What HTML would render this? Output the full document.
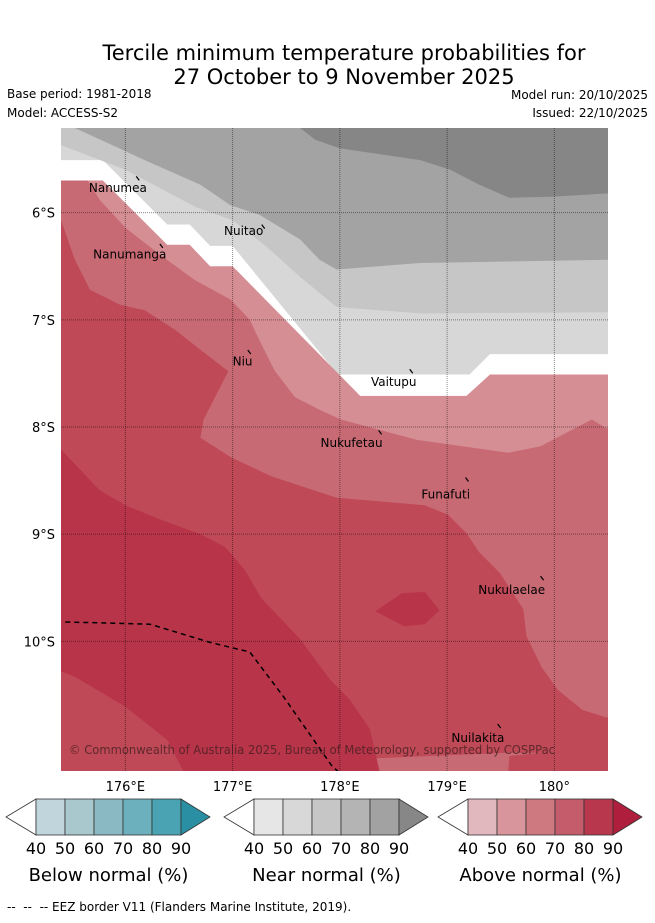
<!DOCTYPE html>
<html><head><meta charset="utf-8">
<style>
html,body{margin:0;padding:0;background:#fff;}
body{width:655px;height:919px;overflow:hidden;font-family:"DejaVu Sans","Liberation Sans",sans-serif;}
svg text{font-family:"DejaVu Sans","Liberation Sans",sans-serif;}
</style></head>
<body>
<svg id="chart" width="655" height="919" viewBox="0 0 655 919" xmlns="http://www.w3.org/2000/svg">
<text x="344" y="60" font-size="21" text-anchor="middle" fill="#000">Tercile minimum temperature probabilities for</text>
<text x="344" y="84" font-size="21" text-anchor="middle" fill="#000">27 October to 9 November 2025</text>
<text x="7" y="98" font-size="12">Base period: 1981-2018</text>
<text x="7" y="117" font-size="12">Model: ACCESS-S2</text>
<text x="648" y="99" font-size="12" text-anchor="end">Model run: 20/10/2025</text>
<text x="648" y="117" font-size="12" text-anchor="end">Issued: 22/10/2025</text>
<defs><clipPath id="plotclip"><rect x="61" y="128" width="547" height="643"/></clipPath></defs>
<g id="map" clip-path="url(#plotclip)"></g>
<g id="overlay"></g>
<g id="cbars"></g>
<text x="7" y="911" font-size="12">-- &#160;-- &#160;-- EEZ border V11 (Flanders Marine Institute, 2019).</text>
</svg>
<script>
// Axis extents (degrees E / degrees S)
const lonTicks = [176, 177, 178, 179, 180];
const lonTickLabels = ["176°E", "177°E", "178°E", "179°E", "180°"];
const latTicks = [6, 7, 8, 9, 10];
const latTickLabels = ["6°S", "7°S", "8°S", "9°S", "10°S"];

// Contour regions: [lon, latS] pairs
const nearBase = [[175.40,5.21],[180.50,5.21],[180.50,7.32],[179.40,7.32],[179.21,7.51],[177.98,7.51],[177.00,6.31],[176.79,6.31],[176.60,6.11],[176.39,6.11],[175.79,5.51],[175.40,5.51]];
const near60 = [[175.40,5.21],[180.50,5.21],[180.50,6.93],[178.75,6.94],[177.97,6.88],[177.63,6.60],[177.32,6.32],[177.00,6.07],[176.66,5.95],[176.00,5.60],[175.40,5.37]];
const near80 = [[175.53,5.21],[180.50,5.21],[180.50,6.44],[178.75,6.47],[177.97,6.53],[177.81,6.44],[177.63,6.25],[177.25,6.02],[176.98,5.93],[176.70,5.74],[176.18,5.51]];
const near90 = [[177.63,5.21],[180.50,5.21],[180.50,5.82],[180.00,5.85],[179.58,5.86],[179.30,5.74],[179.03,5.60],[178.75,5.51],[178.00,5.40],[177.77,5.32]];
const aboveBase = [[175.40,5.70],[175.79,5.70],[176.39,6.30],[176.60,6.30],[176.79,6.50],[177.00,6.50],[178.19,7.71],[179.18,7.71],[179.40,7.51],[180.50,7.51],[180.50,11.21],[175.40,11.21]];
const above60 = [[175.40,5.70],[175.65,5.70],[175.76,5.88],[176.00,6.14],[176.32,6.39],[176.65,6.63],[176.98,6.81],[177.16,7.00],[177.25,7.19],[177.39,7.47],[177.58,7.72],[177.81,7.84],[178.01,7.93],[178.72,8.12],[179.57,8.24],[179.87,8.18],[180.35,7.93],[180.48,8.01],[180.50,8.01],[180.50,11.21],[175.40,11.21]];
const above70 = [[175.40,6.07],[175.53,6.44],[175.67,6.72],[175.95,6.86],[176.18,6.91],[176.46,7.09],[176.70,7.28],[176.96,7.48],[176.73,7.93],[176.70,8.10],[176.98,8.28],[177.36,8.46],[177.97,8.66],[178.79,8.73],[179.01,8.82],[179.18,8.99],[179.30,9.17],[179.49,9.36],[179.71,9.70],[179.74,9.95],[179.88,10.24],[180.03,10.45],[180.26,10.64],[180.48,10.71],[180.50,10.71],[180.50,11.21],[179.57,11.21],[179.58,11.07],[179.88,11.04],[179.57,11.04],[175.40,11.21]];
const above80 = [[175.40,8.21],[175.76,8.59],[176.00,8.73],[176.32,8.86],[176.70,9.00],[176.93,9.12],[177.11,9.33],[177.27,9.60],[177.63,9.98],[177.91,10.36],[178.09,10.54],[178.28,10.82],[178.37,11.21],[175.40,11.21]];
const above80Blob = [[178.33,9.72],[178.58,9.55],[178.79,9.54],[178.93,9.71],[178.79,9.84],[178.60,9.86]];
const above70Patch = [[175.40,10.28],[175.53,10.33],[176.00,10.61],[176.39,10.92],[176.54,11.21],[175.40,11.21]];
const eezLine = [[175.44,9.82],[175.86,9.83],[176.23,9.84],[176.79,10.01],[177.16,10.10],[177.47,10.51],[177.93,11.17],[177.98,11.21]];

const islandNames = ["Nanumea","Nuitao","Nanumanga","Niu","Vaitupu","Nukufetau","Funafuti","Nukulaelae","Nuilakita"];
const islandLon = [176.12,177.29,176.34,177.16,178.67,178.38,179.19,179.89,179.49];
const islandLat = [5.68,6.13,6.31,7.30,7.48,8.05,8.49,9.41,10.79];
const labelLon = [175.66,176.92,175.70,177.00,178.29,177.82,178.76,179.29,179.04];
const labelLat = [5.77,6.17,6.39,7.39,7.58,8.15,8.63,9.52,10.90];

const X0=61, X1=608, Y0=128, Y1=771, LON0=175.40, LON1=180.50, LAT0=5.21, LAT1=11.21;
function xs(lon){return X0+(lon-LON0)/(LON1-LON0)*(X1-X0);}
function ys(lat){return Y0+(lat-LAT0)/(LAT1-LAT0)*(Y1-Y0);}
const NS="http://www.w3.org/2000/svg";
const map=document.getElementById('map'), ov=document.getElementById('overlay'), cb=document.getElementById('cbars');
function pts(a){return a.map(p=>xs(p[0]).toFixed(1)+','+ys(p[1]).toFixed(1)).join(' ');}
function poly(parent,a,fill,name){
  const el=document.createElementNS(NS,'polygon');
  el.setAttribute('points',pts(a));el.setAttribute('fill',fill);
  
  
  parent.appendChild(el);
}
const bg=document.createElementNS(NS,'rect');
bg.setAttribute('x',X0);bg.setAttribute('y',Y0);bg.setAttribute('width',X1-X0);bg.setAttribute('height',Y1-Y0);bg.setAttribute('fill','#fff');


map.appendChild(bg);
poly(map,nearBase,'#d7d7d7','near-normal-50');
poly(map,near60,'#c6c6c6','near-normal-60');
poly(map,near80,'#a3a3a3','near-normal-80');
poly(map,near90,'#868686','near-normal-90');
poly(map,aboveBase,'#d68e95','above-normal-50');
poly(map,above60,'#c86a74','above-normal-60');
poly(map,above70,'#bf4956','above-normal-70');
poly(map,above80,'#b83449','above-normal-80');
poly(map,above80Blob,'#b83449','above-normal-80-blob');
poly(map,above70Patch,'#bf4956','above-normal-70-patch');

// gridlines
lonTicks.forEach((t,i)=>{
  const l=document.createElementNS(NS,'line');
  l.setAttribute('x1',xs(t));l.setAttribute('x2',xs(t));l.setAttribute('y1',Y0);l.setAttribute('y2',Y1);
  l.setAttribute('stroke','rgba(0,0,0,0.45)');l.setAttribute('stroke-width','1');l.setAttribute('stroke-dasharray','1,1');
  
  
  map.appendChild(l);
  const tx=document.createElementNS(NS,'text');
  tx.setAttribute('x',xs(t));tx.setAttribute('y',791);tx.setAttribute('font-size','13');tx.setAttribute('text-anchor','middle');
  tx.textContent=lonTickLabels[i];
  
  
  ov.appendChild(tx);
});
latTicks.forEach((t,i)=>{
  const l=document.createElementNS(NS,'line');
  l.setAttribute('x1',X0);l.setAttribute('x2',X1);l.setAttribute('y1',ys(t));l.setAttribute('y2',ys(t));
  l.setAttribute('stroke','rgba(0,0,0,0.45)');l.setAttribute('stroke-width','1');l.setAttribute('stroke-dasharray','1,1');
  
  
  map.appendChild(l);
  const tx=document.createElementNS(NS,'text');
  tx.setAttribute('x',55);tx.setAttribute('y',ys(t)+5);tx.setAttribute('font-size','13');tx.setAttribute('text-anchor','end');
  tx.textContent=latTickLabels[i];
  
  
  ov.appendChild(tx);
});
// EEZ
const eez=document.createElementNS(NS,'polyline');
eez.setAttribute('points',pts(eezLine));eez.setAttribute('fill','none');eez.setAttribute('stroke','#000');eez.setAttribute('stroke-width','1.5');eez.setAttribute('stroke-dasharray','5,4');


map.appendChild(eez);
// islands
islandNames.forEach((n,i)=>{
  const m=document.createElementNS(NS,'line');
  const ix=xs(islandLon[i]), iy=ys(islandLat[i]);
  m.setAttribute('x1',ix-2);m.setAttribute('y1',iy-2);m.setAttribute('x2',ix+1);m.setAttribute('y2',iy+2);
  m.setAttribute('stroke','#000');m.setAttribute('stroke-width','1.2');
  
  
  map.appendChild(m);
  const t=document.createElementNS(NS,'text');
  t.setAttribute('x',xs(labelLon[i]));t.setAttribute('y',ys(labelLat[i])+4);t.setAttribute('font-size','12');
  t.textContent=n;
  
  
  map.appendChild(t);
});
const cp=document.createElementNS(NS,'text');
cp.setAttribute('x',69);cp.setAttribute('y',754);cp.setAttribute('font-size','12');cp.setAttribute('fill','rgba(60,30,30,0.75)');
cp.setAttribute('textLength','486');cp.setAttribute('lengthAdjust','spacingAndGlyphs');
cp.textContent='© Commonwealth of Australia 2025, Bureau of Meteorology, supported by COSPPac';


map.appendChild(cp);

// colorbars
const cbLevels=["40","50","60","70","80","90"];
const cbTitles=["Below normal (%)","Near normal (%)","Above normal (%)"];
const cbColors=[["#c0d6dc","#a8c8cd","#8ab8c3","#6cafbd","#4aa3b3","#2b8fa3"],
                ["#e6e6e6","#d8d8d8","#c6c6c6","#b4b4b4","#a2a2a2","#878787"],
                ["#e2b8bf","#d9959c","#ce7880","#c45c6b","#b8374d","#af1e3c"]];
const cbLeft=[36,254,468];
cbLeft.forEach((L,b)=>{
  const w=29, top=799, bot=835, mid=817;
  const lt=document.createElementNS(NS,'polygon');
  lt.setAttribute('points',`${L},${top} ${L-30},${mid} ${L},${bot}`);lt.setAttribute('fill','#fff');lt.setAttribute('stroke','#333');lt.setAttribute('stroke-width','0.8');
  
  
  cb.appendChild(lt);
  for(let k=0;k<5;k++){
    const r=document.createElementNS(NS,'rect');
    r.setAttribute('x',L+k*w);r.setAttribute('y',top);r.setAttribute('width',w);r.setAttribute('height',bot-top);
    r.setAttribute('fill',cbColors[b][k]);r.setAttribute('stroke','#333');r.setAttribute('stroke-width','0.8');
    
    
    cb.appendChild(r);
  }
  const R=L+5*w;
  const rt=document.createElementNS(NS,'polygon');
  rt.setAttribute('points',`${R},${top} ${R+29},${mid} ${R},${bot}`);rt.setAttribute('fill',cbColors[b][5]);rt.setAttribute('stroke','#333');rt.setAttribute('stroke-width','0.8');
  
  
  cb.appendChild(rt);
  cbLevels.forEach((lv,k)=>{
    const t=document.createElementNS(NS,'text');
    t.setAttribute('x',L+k*w);t.setAttribute('y',854);t.setAttribute('font-size','16');t.setAttribute('text-anchor','middle');
    t.textContent=lv;
    
    
    cb.appendChild(t);
  });
  const tt=document.createElementNS(NS,'text');
  tt.setAttribute('x',L+2.5*w);tt.setAttribute('y',881);tt.setAttribute('font-size','18');tt.setAttribute('text-anchor','middle');
  tt.textContent=cbTitles[b];
  
  
  cb.appendChild(tt);
});
</script>
</body></html>
